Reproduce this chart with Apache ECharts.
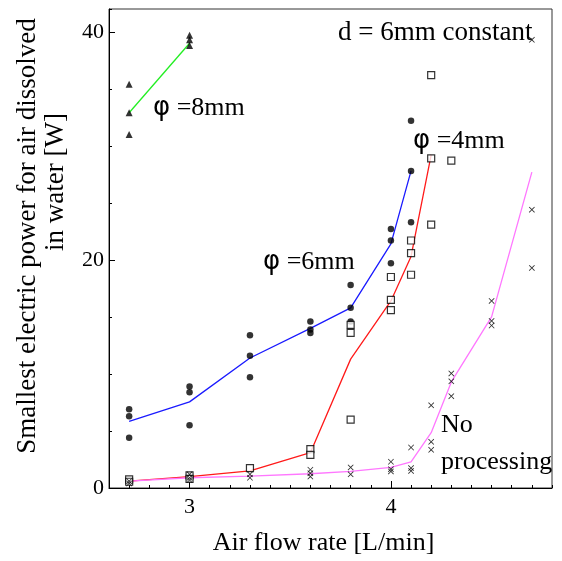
<!DOCTYPE html>
<html>
<head>
<meta charset="utf-8">
<script src="https://cdn.jsdelivr.net/npm/echarts@6/dist/echarts.min.js"></script>
<style>html,body{margin:0;padding:0;background:#fff}#c{width:562px;height:561px}</style>
</head>
<body>
<div id="c"></div>
<script>
// ---- data ----
const phi8X = [2.7, 2.7, 2.7, 3.0, 3.0, 3.0];
const phi8Y = [35.4, 32.9, 31.0, 39.7, 39.3, 38.8];
const phi8LineX = [2.7, 3.0];
const phi8LineY = [32.9, 39.0];

const phi6X = [2.7,2.7,2.7, 3.0,3.0,3.0, 3.3,3.3,3.3, 3.6,3.6,3.6, 3.8,3.8,3.8, 4.0,4.0,4.0, 4.1,4.1,4.1];
const phi6Y = [6.9,6.3,4.4, 8.9,8.4,5.5, 13.4,11.6,9.7, 14.6,13.9,13.6, 17.8,15.8,14.6, 22.7,21.7,19.7, 32.2,27.8,23.3];
const phi6LineX = [2.7, 3.0, 3.3, 3.6, 3.8, 4.0, 4.1];
const phi6LineY = [5.85, 7.55, 11.4, 14.0, 15.8, 21.4, 27.8];

const phi4X = [2.7,2.7, 3.0,3.0, 3.3, 3.6,3.6, 3.8,3.8,3.8, 4.0,4.0,4.0, 4.1,4.1,4.1, 4.2,4.2,4.2, 4.3];
const phi4Y = [0.75,0.55, 1.1,0.8, 1.75, 3.4,2.9, 14.3,13.6,6.0, 18.5,16.5,15.6, 21.7,20.6,18.7, 36.2,28.9,23.1, 28.7];
const phi4LineX = [2.7, 3.0, 3.3, 3.6, 3.8, 4.0, 4.1, 4.2];
const phi4LineY = [0.6, 1.0, 1.5, 3.1, 11.3, 16.4, 20.3, 29.2];

const noX = [2.7,2.7, 3.0,3.0,3.0, 3.3,3.3, 3.6,3.6,3.6, 3.8,3.8, 4.0,4.0,4.0, 4.1,4.1,4.1, 4.2,4.2,4.2, 4.3,4.3,4.3, 4.5,4.5,4.5, 4.7,4.7,4.7];
const noY = [0.6,0.4, 1.2,0.9,0.7, 1.2,0.9, 1.6,1.3,1.0, 1.8,1.2, 2.3,1.65,1.45, 3.55,1.75,1.5, 7.25,4.05,3.35, 10.05,9.35,8.05, 16.4,14.65,14.25, 39.3,24.4,19.3];
const noLineX = [2.7, 3.0, 3.3, 3.6, 3.8, 4.0, 4.1, 4.2, 4.3, 4.5, 4.7];
const noLineY = [0.6, 0.9, 1.05, 1.25, 1.45, 1.8, 2.3, 4.85, 9.3, 15.0, 27.7];

const xMajorTicks = [3, 4];
const yMajorTicks = [0, 20, 40];
const xLabel = 'Air flow rate [L/min]';
const yLabel1 = 'Smallest electric power for air dissolved';
const yLabel2 = 'in water [W]';

// ---- build ----
const zip = (xs, ys) => xs.map((x, i) => [x, ys[i]]);
const SERIF = '"Liberation Serif", "Times New Roman", serif';
const crossPath = 'path://M0,1L1,0L5,4L9,0L10,1L6,5L10,9L9,10L5,6L1,10L0,9L4,5Z';

const chart = echarts.init(document.getElementById('c'), null, {renderer: 'canvas'});

function lineSeries(xs, ys, color) {
  return {type: 'line', data: zip(xs, ys), symbol: 'none', silent: true,
    lineStyle: {color: color, width: 1.3}, z: 2, animation: false};
}
function scatterSeries(xs, ys, symbol, size, style) {
  return {type: 'scatter', data: zip(xs, ys), symbol: symbol, symbolSize: size,
    itemStyle: style, z: 3, animation: false};
}
function annot(text, x, y) {
  return {type: 'text', x: x, y: y, z: 10, silent: true,
    style: {text: text, fontFamily: SERIF, fontSize: 26, fill: '#000', verticalAlign: 'middle', align: 'left',
      rich: {p: {fontFamily: '"DejaVu Sans", sans-serif', fontSize: 26, fill: '#000'}}}};
}
function vtext(text, x, y) {
  return {type: 'text', x: x, y: y, rotation: Math.PI / 2, z: 10, silent: true,
    style: {text: text, fontFamily: SERIF, fontSize: 27, fill: '#000', align: 'center', verticalAlign: 'middle'}};
}

const axisLineStyle = {color: '#000', width: 1};

const option = {
  backgroundColor: '#fff',
  animation: false,
  grid: {left: 109, right: 10, top: 9, bottom: 72, show: true, borderColor: '#333', borderWidth: 1, backgroundColor: 'transparent'},
  xAxis: [{
    type: 'value', min: 2.6, max: 4.8, interval: 0.1,
    axisLine: {show: true, lineStyle: axisLineStyle},
    axisTick: {show: true, inside: true, length: 3, lineStyle: axisLineStyle},
    axisLabel: {show: false},
    splitLine: {show: false},
    name: xLabel, nameLocation: 'middle', nameGap: 42,
    nameTextStyle: {fontFamily: SERIF, fontSize: 26, color: '#000', padding: [0, 14, 0, 0]}
  }, {
    type: 'value', min: 2.6, max: 4.8, position: 'bottom',
    axisLine: {show: false},
    axisTick: {show: true, inside: true, length: 7, customValues: xMajorTicks, lineStyle: axisLineStyle},
    axisLabel: {show: true, customValues: xMajorTicks, margin: 8, fontFamily: SERIF, fontSize: 22, color: '#000'},
    splitLine: {show: false}
  }],
  yAxis: [{
    type: 'value', min: 0, max: 42, interval: 5,
    axisLine: {show: true, lineStyle: axisLineStyle},
    axisTick: {show: true, inside: true, length: 3, lineStyle: axisLineStyle},
    axisLabel: {show: false},
    splitLine: {show: false}
  }, {
    type: 'value', min: 0, max: 42, position: 'left',
    axisLine: {show: false},
    axisTick: {show: true, inside: true, length: 6, customValues: yMajorTicks, lineStyle: axisLineStyle},
    axisLabel: {show: true, customValues: yMajorTicks, margin: 5, fontFamily: SERIF, fontSize: 22, color: '#000'},
    splitLine: {show: false}
  }],
  series: [
    lineSeries(phi8LineX, phi8LineY, '#22ee22'),
    lineSeries(phi6LineX, phi6LineY, '#1a1aff'),
    lineSeries(phi4LineX, phi4LineY, '#ff1a1a'),
    lineSeries(noLineX, noLineY, '#ff77ff'),
    scatterSeries(phi8X, phi8Y, 'triangle', 7, {color: '#000'}),
    scatterSeries(phi6X, phi6Y, 'circle', 6.5, {color: '#000'}),
    scatterSeries(phi4X, phi4Y, 'rect', 7, {color: '#fff', borderColor: '#000', borderWidth: 1.2}),
    scatterSeries(noX, noY, crossPath, 6, {color: '#000'})
  ],
  graphic: [
    annot('{p|φ} =8mm', 153, 108),
    annot('{p|φ} =6mm', 263, 262),
    annot('{p|φ} =4mm', 413, 141),
    {type: 'text', x: 338, y: 33, z: 10, silent: true,
      style: {text: 'd = 6mm constant', fontFamily: SERIF, fontSize: 27, fill: '#000', verticalAlign: 'middle', align: 'left'}},
    annot('No', 441, 425),
    annot('processing', 441, 462),
    vtext(yLabel1, 28, 236),
    vtext(yLabel2, 56, 182)
  ]
};

chart.setOption(option);
</script>
</body>
</html>
